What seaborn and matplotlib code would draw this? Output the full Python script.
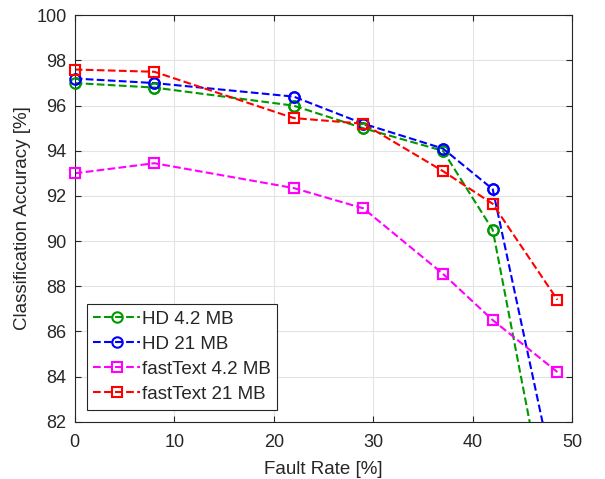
import pandas as pd
import seaborn as sns
import matplotlib.pyplot as plt

# values
fault_rate = [0, 8, 22, 29, 37, 42, 48.5]
hd_small = [97.0, 96.8, 96.0, 95.0, 94.0, 90.5, 75.6]
hd_large = [97.2, 97.0, 96.4, 95.2, 94.1, 92.3, 78.9]
ft_small = [93.0, 93.45, 92.35, 91.45, 88.55, 86.5, 84.2]
ft_large = [97.6, 97.5, 95.45, 95.2, 93.1, 91.65, 87.4]

labels = ["HD 4.2 MB", "HD 21 MB", "fastText 4.2 MB", "fastText 21 MB"]
colors = ["#009900", "#0000ff", "#ff00ff", "#ff0000"]
markers = ["o", "o", "s", "s"]
values = [hd_small, hd_large, ft_small, ft_large]

y_min, y_max = 82, 100

sns.set_theme(style="whitegrid")
plt.rcParams["font.family"] = ["Liberation Sans", "DejaVu Sans"]

fig = plt.figure(figsize=(6.05, 4.79), dpi=100)
ax = fig.add_axes([0.1235, 0.1196, 0.8225, 0.8484])

for label, vals, color, marker in zip(labels, values, colors, markers):
    df = pd.DataFrame({"x": fault_rate, "y": vals})
    ms = 7.5 if marker == "o" else 6.5
    sns.lineplot(data=df, x="x", y="y", ax=ax, color=color, linestyle="--",
                 dashes=False, linewidth=1.5, marker=marker, markersize=ms,
                 markerfacecolor="none", markeredgecolor=color, markeredgewidth=1.5,
                 label=label)
    # markers on the axes edge are not clipped in the original
    vis = df[df["y"] >= y_min]
    ax.plot(vis["x"], vis["y"], linestyle="none", marker=marker, markersize=ms,
            markerfacecolor="none", markeredgecolor=color, markeredgewidth=1.5,
            clip_on=False, zorder=4)

ax.set_xlim(0, 50)
ax.set_ylim(y_min, y_max)
ax.set_xticks(range(0, 51, 10))
ax.set_yticks(range(82, 101, 2))
ax.set_xlabel("Fault Rate [%]", fontsize=13.5, color="#262626", labelpad=7)
ax.set_ylabel("Classification Accuracy [%]", fontsize=13.5, color="#262626", labelpad=4)

ax.grid(True, color="#e3e3e3", linewidth=0.8)
for side in ax.spines.values():
    side.set_visible(True)
    side.set_color("#262626")
    side.set_linewidth(0.8)
ax.tick_params(axis="both", direction="in", length=4, width=0.8, color="#262626",
               labelsize=13, labelcolor="#262626", top=True, right=True,
               bottom=True, left=True, pad=6)
ax.tick_params(axis="x", pad=9)
ax.set_facecolor("white")

leg = ax.legend(loc="lower left", bbox_to_anchor=(0.024, 0.03), borderaxespad=0,
                fontsize=13.5, frameon=True, fancybox=False, framealpha=1,
                edgecolor="#262626", handlelength=2.5, handletextpad=0.1,
                labelspacing=0.42, borderpad=0.35)
leg.get_frame().set_linewidth(0.8)

fig.savefig("out.png", dpi=100, facecolor="white")
